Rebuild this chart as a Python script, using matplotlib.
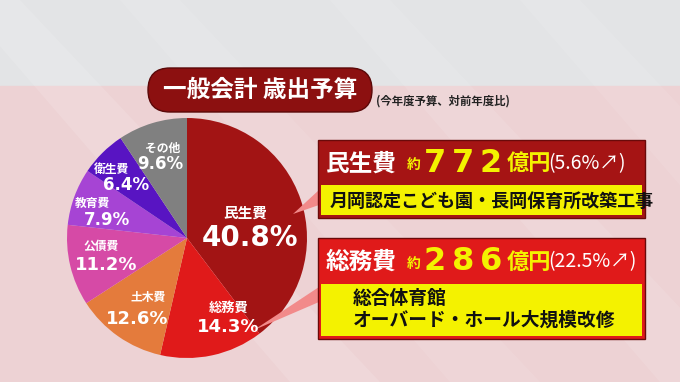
import matplotlib
matplotlib.use("Agg")
import matplotlib.pyplot as plt
from matplotlib.patches import Rectangle, FancyBboxPatch, Polygon

plt.rcParams['font.family'] = ['Noto Sans CJK JP', 'DejaVu Sans']

# data
categories = ["民生費", "総務費", "土木費", "公債費", "教育費", "衛生費", "その他"]
shares = [40.8, 14.3, 12.6, 11.2, 7.9, 6.4, 9.6]
colors = ["#a21414", "#e01a1a", "#e47b3c", "#d64aa6", "#a644d4", "#5814c2", "#808080"]
title = "一般会計 歳出予算"
subtitle = "(今年度予算、対前年度比)"
hi_names = ["民生費", "総務費"]
hi_amounts = ["772", "286"]
hi_changes = ["(5.6%↗)", "(22.5%↗)"]
hi_projects = [["月岡認定こども園・長岡保育所改築工事"], ["総合体育館", "オーバード・ホール大規模改修"]]

W, H = 680, 382
fig = plt.figure(figsize=(W / 100, H / 100), dpi=100)

# background (pixel coords)
bg = fig.add_axes([0, 0, 1, 1], zorder=0)
bg.set_xlim(0, W); bg.set_ylim(H, 0); bg.axis("off")
bg.add_patch(Rectangle((0, 0), W, 86, color="#e3e4e6"))
bg.add_patch(Rectangle((0, 86), W, H - 86, color="#edd2d4"))
for x0, a in [(-40, 0.35), (120, 0.25), (330, 0.3), (520, 0.25)]:
    bg.add_patch(Polygon([(x0, 0), (x0 + 60, 0), (x0 + 420, H), (x0 + 330, H)],
                         color="white", alpha=a * 0.35, lw=0))

# pie
cx, cy, r = 187, 238, 120
pax = fig.add_axes([(cx - r) / W, (H - cy - r) / H, 2 * r / W, 2 * r / H], zorder=1)
pax.pie(shares, colors=colors, startangle=90, counterclock=False, radius=1,
        wedgeprops=dict(linewidth=0))
pax.set_xlim(-1, 1); pax.set_ylim(-1, 1)

# overlay
ov = fig.add_axes([0, 0, 1, 1], zorder=2)
ov.set_xlim(0, W); ov.set_ylim(H, 0); ov.axis("off")
ov.patch.set_alpha(0)

# pie labels: (name xy, value xy, name size, value size)
label_pos = [((245, 213), (250, 238), 10.5, 20),
             ((229, 308), (228, 327), 9.5, 13),
             ((148, 298), (137, 319), 8.5, 13),
             ((101, 246), (106, 265), 8.5, 13),
             ((93, 203), (107, 220), 8.5, 12),
             ((111, 170), (126, 185), 8.5, 12),
             ((163, 148), (160, 164), 8.5, 12)]
for name, val, (p1, p2, s1, s2) in zip(categories, shares, label_pos):
    ov.text(*p1, name, color="white", fontsize=s1, fontweight="bold", ha="center", va="center")
    ov.text(*p2, f"{val}%", color="white", fontsize=s2, fontweight="bold", ha="center", va="center",
            family=["DejaVu Sans"])

# title pill
ov.add_patch(FancyBboxPatch((148, 68), 224, 44, boxstyle="round,pad=0,rounding_size=22",
                            fc="#8c1010", ec="#5a0808", lw=1))
ov.text(260, 90, title, color="white", fontsize=17, fontweight="bold", ha="center", va="center")
ov.text(376, 101, subtitle, color="#222222", fontsize=8.2, fontweight="bold", ha="left", va="center")

# callouts
ov.add_patch(Polygon([(293, 214), (319, 190), (319, 205)], color="#f28a8a", lw=0))
ov.add_patch(Polygon([(254, 330), (319, 287), (319, 302)], color="#f28a8a", lw=0))

# highlight boxes
boxes = [dict(y=140, head=45, h=78, hc="#a51414"),
         dict(y=238, head=46, h=101, hc="#e01a1a")]
for b, name, amt, chg, proj in zip(boxes, hi_names, hi_amounts, hi_changes, hi_projects):
    y0 = b["y"]
    ov.add_patch(Rectangle((318, y0), 327, b["h"], fc=b["hc"], ec="#6a0a0a", lw=1))
    ov.add_patch(Rectangle((321, y0 + b["head"]), 321, b["h"] - b["head"] - 3, fc="#f4f200", ec="none"))
    ym = y0 + b["head"] / 2 + 1
    ov.text(326, ym, name, color="white", fontsize=17, fontweight="bold", ha="left", va="center")
    ov.text(407, ym + 2, "約", color="#f4f200", fontsize=10, fontweight="bold", ha="left", va="center")
    for i, d in enumerate(amt):
        ov.text(435 + 28 * i, ym, d, color="#f4f200", fontsize=23, fontweight="bold",
                ha="center", va="center", family=["DejaVu Sans"])
    ov.text(507, ym, "億円", color="#f4f200", fontsize=16, fontweight="bold", ha="left", va="center")
    ov.text(548, ym, chg, color="white", fontsize=14, ha="left", va="center")
    yb = y0 + b["head"]
    if len(proj) == 1:
        ov.text(330, yb + 16, proj[0], color="#111111", fontsize=13, fontweight="bold", ha="left", va="center")
    else:
        for i, line in enumerate(proj):
            ov.text(353, yb + 14 + i * 22, line, color="#111111", fontsize=13.5, fontweight="bold",
                    ha="left", va="center")

fig.savefig("out.png", dpi=100)
